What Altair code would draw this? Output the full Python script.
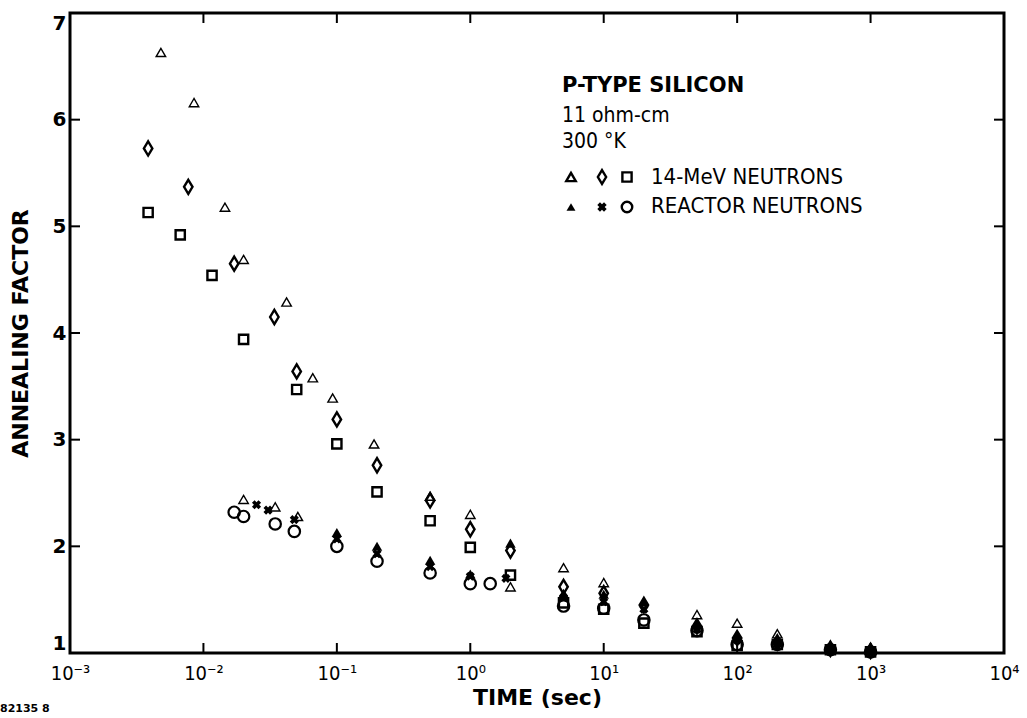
import altair as alt
import pandas as pd

# ---------------- data ----------------
tri14_x = [0.0048, 0.0085, 0.0145, 0.020, 0.042, 0.066, 0.093, 0.19, 0.5, 1.0, 2.0, 5.0, 10, 50, 100, 200, 0.020, 0.0345, 0.051]
tri14_y = [6.63, 6.16, 5.18, 4.69, 4.29, 3.58, 3.39, 2.96, 2.47, 2.30, 1.62, 1.80, 1.66, 1.36, 1.28, 1.18, 2.44, 2.37, 2.28]

dia14_x = [0.00385, 0.0077, 0.017, 0.034, 0.05, 0.1, 0.2, 0.5, 1.0, 2.0, 5.0, 10, 20, 50, 100, 200, 500, 1000]
dia14_y = [5.73, 5.37, 4.65, 4.15, 3.64, 3.19, 2.76, 2.43, 2.16, 1.96, 1.62, 1.56, 1.45, 1.25, 1.14, 1.10, 1.04, 1.02]

sq14_x = [0.00385, 0.0067, 0.0116, 0.020, 0.05, 0.1, 0.2, 0.5, 1.0, 2.0, 5.0, 10, 20, 50, 100, 200, 500, 1000]
sq14_y = [5.13, 4.92, 4.54, 3.94, 3.47, 2.96, 2.51, 2.24, 1.99, 1.73, 1.47, 1.41, 1.28, 1.20, 1.07, 1.08, 1.03, 1.01]

triR_x = [0.1, 0.2, 0.5, 1.0, 2.0, 5.0, 10, 20, 50, 100, 200, 500, 1000]
triR_y = [2.13, 2.00, 1.87, 1.74, 2.03, 1.56, 1.55, 1.48, 1.28, 1.16, 1.12, 1.05, 1.02]

xR_x = [0.025, 0.0305, 0.048, 0.1, 0.2, 0.5, 1.0, 1.85, 5.0, 10, 20, 50, 100, 200, 500, 1000]
xR_y = [2.39, 2.34, 2.25, 2.07, 1.93, 1.81, 1.72, 1.70, 1.52, 1.48, 1.41, 1.22, 1.12, 1.08, 1.03, 1.01]

circR_x = [0.017, 0.020, 0.0345, 0.048, 0.1, 0.2, 0.5, 1.0, 1.41, 5.0, 10, 20, 50, 100, 200, 500, 1000]
circR_y = [2.32, 2.28, 2.21, 2.14, 2.00, 1.86, 1.75, 1.65, 1.65, 1.44, 1.42, 1.31, 1.21, 1.08, 1.08, 1.03, 1.01]

x_ticks = [1e-3, 1e-2, 1e-1, 1e0, 1e1, 1e2, 1e3, 1e4]
x_inner_ticks = [1e-2, 1e-1, 1e0, 1e1, 1e2, 1e3]
y_ticks = [1, 2, 3, 4, 5, 6, 7]
y_inner_ticks = [2, 3, 4, 5, 6]

title_lines = ["P-TYPE SILICON", "11 ohm-cm", "300 °K"]
legend_labels = ["14-MeV NEUTRONS", "REACTOR NEUTRONS"]
figure_id = "82135 8"

W, H = 934, 640
NARROW = "'Liberation Sans Narrow', 'DejaVu Sans Condensed', 'Arial Narrow', sans-serif"
BOLD = "'DejaVu Sans', sans-serif"

xs = alt.Scale(type="log", domain=[1e-3, 1e4], nice=False)
ys = alt.Scale(domain=[1, 7], nice=False, zero=False)

X_AXIS = alt.Axis(values=x_ticks, ticks=False, domain=False, grid=False,
                  labelExpr="'10' + ['⁻³','⁻²','⁻¹','⁰','¹','²','³','⁴'][round(log(datum.value)/LN10)+3]",
                  labelFont=NARROW, labelFontSize=20, labelColor="black",
                  labelPadding=10, labelFlush=False,
                  titleFont=BOLD, titleFontWeight="bold", titleFontSize=22,
                  titleColor="black", titlePadding=4)
Y_AXIS = alt.Axis(values=y_ticks, ticks=False, domain=False, grid=False,
                  labelFont=BOLD, labelFontSize=20, labelFontWeight="bold",
                  labelColor="black", labelPadding=4, labelFlush=True,
                  titleFont=BOLD, titleFontWeight="bold", titleFontSize=22,
                  titleColor="black", titlePadding=20)


def XE():
    return alt.X("t:Q", scale=xs, title="TIME (sec)", axis=X_AXIS)


def YE():
    return alt.Y("f:Q", scale=ys, title="ANNEALING FACTOR", axis=Y_AXIS)


DIAMOND = "M0,-1L0.6,0L0,1L-0.6,0Z"


def df(xv, yv):
    return pd.DataFrame({"t": xv, "f": yv})


def pts(data, **mk):
    return alt.Chart(data).mark_point(opacity=1, color="black", **mk).encode(x=XE(), y=YE())


xt = pd.DataFrame({"t": x_inner_ticks})
yt = pd.DataFrame({"f": y_inner_ticks})
rule_style = dict(color="black", strokeWidth=2)
tick_bottom = alt.Chart(xt).mark_rule(**rule_style).encode(
    x=XE(), y=alt.value(H), y2=alt.value(H - 10))
tick_top = alt.Chart(xt).mark_rule(**rule_style).encode(
    x=XE(), y=alt.value(0), y2=alt.value(10))
tick_left = alt.Chart(yt).mark_rule(**rule_style).encode(
    y=YE(), x=alt.value(0), x2=alt.value(10))
tick_right = alt.Chart(yt).mark_rule(**rule_style).encode(
    y=YE(), x=alt.value(W), x2=alt.value(W - 10))

# data series
s_tri14 = pts(df(tri14_x, tri14_y), shape="triangle-up", filled=False,
              strokeWidth=1.4, size=90)
s_dia14 = pts(df(dia14_x, dia14_y), shape=DIAMOND, filled=False,
              strokeWidth=2.4, size=200)
s_sq14 = pts(df(sq14_x, sq14_y), shape="square", filled=False,
             strokeWidth=2.4, size=85)
s_circR = pts(df(circR_x, circR_y), shape="circle", filled=False,
              strokeWidth=2.2, size=130)
s_triR = pts(df(triR_x, triR_y), shape="triangle-up", filled=True, size=110)
s_xR = pts(df(xR_x, xR_y), shape="cross", angle=45, filled=True, size=85)

# annotation block
ann_title = alt.Chart(pd.DataFrame({"txt": [title_lines[0]]})).mark_text(
    align="left", baseline="middle", font=BOLD, fontWeight="bold", fontSize=21, color="black"
).encode(text="txt:N", x=alt.value(492), y=alt.value(73))
ann_lines = alt.Chart(pd.DataFrame({"txt": title_lines[1:], "py": [103, 129]})).mark_text(
    align="left", baseline="middle", font=NARROW, fontSize=21, color="black"
).encode(text="txt:N", x=alt.value(492), y=alt.Y("py:Q", scale=None, axis=None))
ann_legend = alt.Chart(pd.DataFrame({"txt": legend_labels, "py": [164, 193]})).mark_text(
    align="left", baseline="middle", font=NARROW, fontSize=22, color="black"
).encode(text="txt:N", x=alt.value(581), y=alt.Y("py:Q", scale=None, axis=None))


def key(px, py, **mk):
    return alt.Chart(pd.DataFrame({"a": [0]})).mark_point(
        color="black", opacity=1, **mk).encode(x=alt.value(px), y=alt.value(py))


keys = [
    key(501, 164, shape="triangle-up", filled=False, strokeWidth=2.4, size=90),
    key(532, 164, shape=DIAMOND, filled=False, strokeWidth=2.4, size=190),
    key(557, 164, shape="square", filled=False, strokeWidth=2.4, size=85),
    key(501, 194, shape="triangle-up", filled=True, size=80),
    key(532, 194, shape="cross", angle=45, filled=True, size=90),
    key(557, 194, shape="circle", filled=False, strokeWidth=2.4, size=110),
]

fig_id = alt.Chart(pd.DataFrame({"txt": [figure_id]})).mark_text(
    align="left", baseline="middle", font=BOLD, fontWeight="bold", fontSize=11, color="black"
).encode(text="txt:N", x=alt.value(-70), y=alt.value(696))

chart = alt.layer(
    tick_bottom, tick_top, tick_left, tick_right,
    s_tri14, s_sq14, s_circR, s_dia14, s_xR, s_triR,
    ann_title, ann_lines, ann_legend, *keys, fig_id,
).properties(
    width=W, height=H,
    autosize=alt.AutoSizeParams(type="none"),
    padding={"left": 70, "top": 13, "right": 23, "bottom": 65},
    background="white",
).configure_view(stroke="black", strokeWidth=3)

chart.save("out.html", embed_options={"renderer": "svg", "actions": False})
